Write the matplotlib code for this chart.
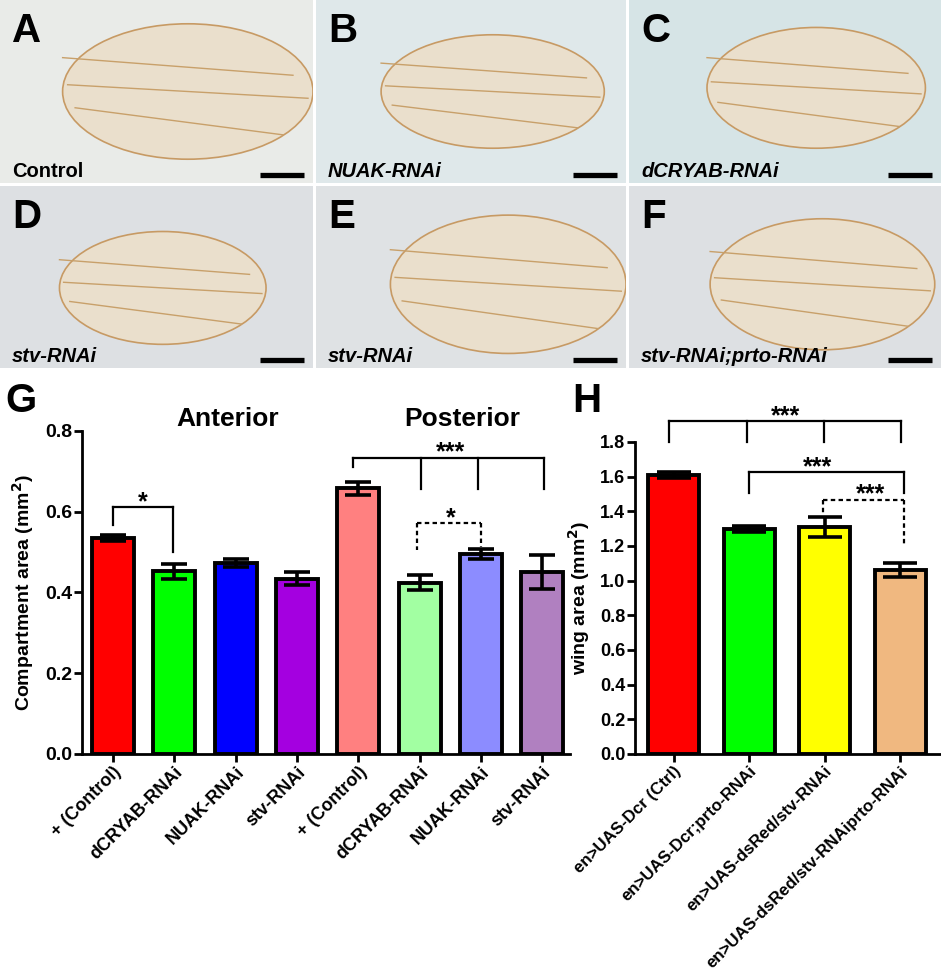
import matplotlib
matplotlib.use("Agg")
import matplotlib.pyplot as plt
from matplotlib.patches import Ellipse
import numpy as np

plt.rcParams['font.family'] = ['Liberation Sans', 'DejaVu Sans']

# ---------------- data ----------------
photo_letters = ['A', 'B', 'C', 'D', 'E', 'F']
photo_labels = ['Control', 'NUAK-RNAi', 'dCRYAB-RNAi', 'stv-RNAi', 'stv-RNAi', 'stv-RNAi;prto-RNAi']
photo_italic = [False, True, True, True, True, True]
photo_bg = ['#e9ebe8', '#dfe8ea', '#d6e4e6', '#dde0e3', '#dfe2e4', '#dde0e3']

g_categories = ['+ (Control)', 'dCRYAB-RNAi', 'NUAK-RNAi', 'stv-RNAi',
                '+ (Control)', 'dCRYAB-RNAi', 'NUAK-RNAi', 'stv-RNAi']
g_values = [0.535, 0.452, 0.473, 0.434, 0.657, 0.424, 0.495, 0.450]
g_errors = [0.008, 0.018, 0.010, 0.016, 0.016, 0.018, 0.013, 0.042]
g_colors = ['#ff0000', '#00ff00', '#0000ff', '#a400e0',
            '#ff8080', '#a2ffa2', '#8c8cff', '#b080c0']
g_titles = ['Anterior', 'Posterior']
g_yticks = [0.0, 0.2, 0.4, 0.6, 0.8]

h_categories = ['en>UAS-Dcr (Ctrl)', 'en>UAS-Dcr;prto-RNAi',
                'en>UAS-dsRed/stv-RNAi', 'en>UAS-dsRed/stv-RNAiprto-RNAi']
h_values = [1.608, 1.298, 1.310, 1.060]
h_errors = [0.018, 0.020, 0.060, 0.040]
h_colors = ['#ff0000', '#00ff00', '#ffff00', '#f0b880']
h_yticks = [0.0, 0.2, 0.4, 0.6, 0.8, 1.0, 1.2, 1.4, 1.6, 1.8]

W, H = 941, 974
fig = plt.figure(figsize=(W / 100, H / 100), dpi=100)


def fr(x0, y0, x1, y1):
    return [x0 / W, 1 - y1 / H, (x1 - x0) / W, (y1 - y0) / H]


# ---------------- photo placeholders ----------------
boxes = [(0, 0, 313, 183), (316, 0, 626, 183), (629, 0, 941, 183),
         (0, 186, 313, 368), (316, 186, 626, 368), (629, 186, 941, 368)]
wings = [(0.60, 0.50, 0.80, 0.74), (0.57, 0.50, 0.72, 0.62), (0.60, 0.52, 0.70, 0.66),
         (0.52, 0.44, 0.66, 0.62), (0.62, 0.46, 0.76, 0.76), (0.62, 0.46, 0.72, 0.72)]
for i, b in enumerate(boxes):
    ax = fig.add_axes(fr(*b))
    ax.set_xlim(0, 1)
    ax.set_ylim(0, 1)
    ax.set_facecolor(photo_bg[i])
    ax.set_xticks([])
    ax.set_yticks([])
    for s in ax.spines.values():
        s.set_visible(False)
    cx, cy, ww, hh = wings[i]
    ax.add_patch(Ellipse((cx, cy), ww, hh, facecolor='#eadfcc', edgecolor='#c79a64', lw=1.2))
    ax.plot([cx - ww * 0.5, cx + ww * 0.42], [cy + hh * 0.25, cy + hh * 0.12], color='#c8a06a', lw=1)
    ax.plot([cx - ww * 0.48, cx + ww * 0.48], [cy + hh * 0.05, cy - hh * 0.05], color='#c8a06a', lw=1)
    ax.plot([cx - ww * 0.45, cx + ww * 0.38], [cy - hh * 0.12, cy - hh * 0.32], color='#c8a06a', lw=1)
    ax.text(12 / 313, 1 - 12 / 183, photo_letters[i], transform=ax.transAxes,
            fontsize=29, fontweight='bold', va='top', ha='left')
    ax.text(12 / 313, 0.035, photo_labels[i], transform=ax.transAxes,
            fontsize=14.5, fontweight='bold', style='italic' if photo_italic[i] else 'normal',
            va='baseline', ha='left')
    ax.plot([0.83, 0.97], [0.045, 0.045], color='black', lw=3.8, solid_capstyle='butt')


def style_axes(ax):
    for s in ['top', 'right']:
        ax.spines[s].set_visible(False)
    for s in ['left', 'bottom']:
        ax.spines[s].set_linewidth(2)
    ax.tick_params(axis='both', width=2, length=6, direction='out', pad=1)


def bracket(ax, xs, ytop, ybots, dashed=False):
    ls = (0, (2, 1.5)) if dashed else '-'
    ax.plot([min(xs), max(xs)], [ytop, ytop], color='black', lw=1.6, ls=ls,
            clip_on=False, solid_capstyle='projecting')
    for x, yb in zip(xs, ybots):
        ax.plot([x, x], [ytop, yb], color='black', lw=1.6, ls=ls, clip_on=False)


def star(ax, x, y, s):
    ax.text(x, y, s, ha='center', va='baseline', fontsize=18, fontweight='bold', clip_on=False)


# ---------------- panel G ----------------
axg = fig.add_axes(fr(82, 430.7, 570, 754))
xg = np.arange(len(g_values))
axg.bar(xg, g_values, width=0.685, color=g_colors, edgecolor='black', linewidth=2.8,
        yerr=g_errors, capsize=9.5,
        error_kw=dict(elinewidth=2.6, capthick=2.6, ecolor='black'))
axg.set_xlim(-0.505, 7.45)
axg.set_ylim(0, 0.8)
axg.set_yticks(g_yticks)
axg.set_yticklabels(['%.1f' % v for v in g_yticks], fontsize=14, fontweight='bold')
axg.set_xticks(xg)
axg.set_xticklabels(g_categories, rotation=45, ha='right', rotation_mode='anchor',
                    fontsize=13, fontweight='bold')
style_axes(axg)
axg.set_ylabel('Compartment area (mm$^\\mathbf{2}$)', fontsize=14, fontweight='bold')
axg.yaxis.set_label_coords(-0.094, 0.5)

bracket(axg, [0, 0.98], 0.612, [0.567, 0.500])
star(axg, 0.49, 0.606, '*')
bracket(axg, [3.92, 5.02, 5.95, 7.02], 0.733, [0.711, 0.655, 0.655, 0.655])
star(axg, 5.5, 0.728, '***')
bracket(axg, [4.95, 6.0], 0.571, [0.505, 0.513], dashed=True)
star(axg, 5.5, 0.566, '*')

fig.text(228 / W, 1 - 426 / H, g_titles[0], fontsize=19, fontweight='bold',
         ha='center', va='baseline')
fig.text(462 / W, 1 - 426 / H, g_titles[1], fontsize=19, fontweight='bold',
         ha='center', va='baseline')

# ---------------- panel H ----------------
axh = fig.add_axes(fr(635, 442, 941, 754))
xh = np.arange(len(h_values))
axh.bar(xh, h_values, width=0.675, color=h_colors, edgecolor='black', linewidth=2.8,
        yerr=h_errors, capsize=12,
        error_kw=dict(elinewidth=2.6, capthick=2.6, ecolor='black'))
axh.set_xlim(-0.51, 3.54)
axh.set_ylim(0, 1.8)
axh.set_yticks(h_yticks)
axh.set_yticklabels(['%.1f' % v for v in h_yticks], fontsize=13, fontweight='bold')
axh.set_xticks(xh)
axh.set_xticklabels(h_categories, rotation=45, ha='right', rotation_mode='anchor',
                    fontsize=12.2, fontweight='bold')
style_axes(axh)
axh.set_ylabel('wing area (mm$^\\mathbf{2}$)', fontsize=14, fontweight='bold')
axh.yaxis.set_label_coords(-0.14, 0.5)

bracket(axh, [-0.06, 0.97, 1.99, 3.01], 1.923, [1.80, 1.80, 1.80, 1.80])
star(axh, 1.48, 1.91, '***')
bracket(axh, [1.0, 3.05], 1.625, [1.506, 1.506])
star(axh, 1.9, 1.615, '***')
bracket(axh, [1.98, 3.05], 1.468, [1.383, 1.20], dashed=True)
star(axh, 2.61, 1.458, '***')

# panel letters
fig.text(5 / W, 1 - 412 / H, 'G', fontsize=29, fontweight='bold', ha='left', va='baseline')
fig.text(572 / W, 1 - 412 / H, 'H', fontsize=29, fontweight='bold', ha='left', va='baseline')

fig.savefig('out.png', dpi=100)
